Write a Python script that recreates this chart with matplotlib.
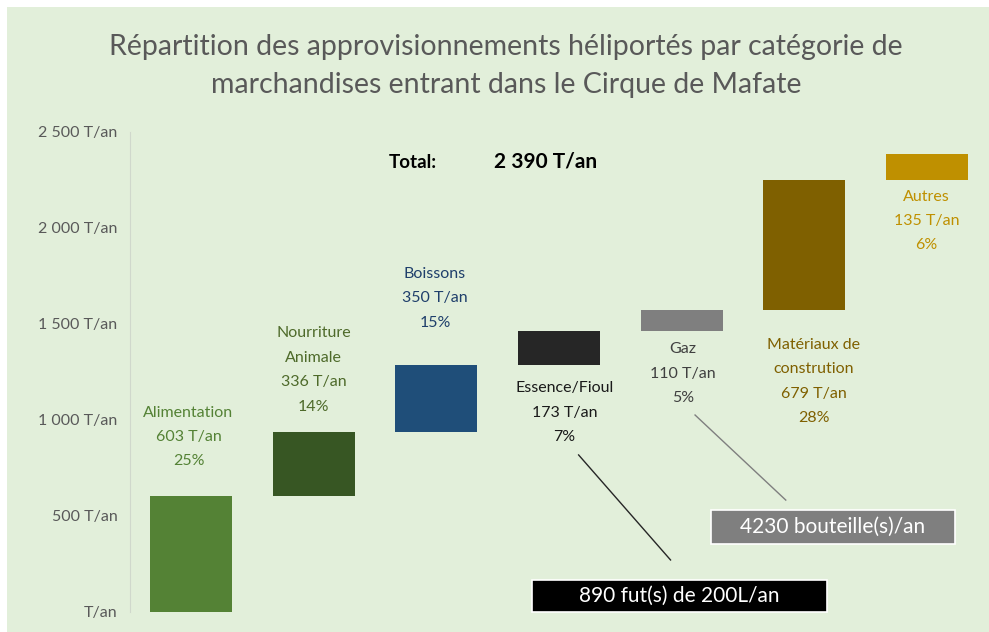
import matplotlib
matplotlib.use("Agg")
import matplotlib.pyplot as plt
from matplotlib.patches import Rectangle
import numpy as np

# ---- data ----
categories = ["Alimentation", "Nourriture\nAnimale", "Boissons", "Essence/Fioul",
              "Gaz", "Matériaux de\nconstrution", "Autres"]
values = [603, 336, 350, 173, 110, 679, 135]
total_label = "2 390 T/an"
yticks = [0, 500, 1000, 1500, 2000, 2500]
ytick_labels = ["T/an", "500 T/an", "1 000 T/an", "1 500 T/an", "2 000 T/an", "2 500 T/an"]
callout_fioul = "890 fut(s) de 200L/an"
callout_gaz = "4230 bouteille(s)/an"

# ---- style ----
bar_colors = ["#548235", "#375623", "#1F4E79", "#262626", "#7F7F7F", "#7F6000", "#BF9000"]
label_colors = ["#548235", "#4E6A2A", "#1F3F6B", "#1A1A1A", "#404040", "#7F6000", "#BF9000"]
label_side = ["above", "above", "above", "below", "below", "below", "below"]
label_dy = [20, 13, 25, 12, 8, 20, 7]     # points away from bar
label_dx = [-2, 0, -1, 4, 1, 7, 0]        # points
bg = "#E2EFDA"
font = ["Lato", "DejaVu Sans"]
plt.rcParams["font.family"] = font

fig = plt.figure(figsize=(9.89, 6.32), dpi=100, facecolor="white")
fig.patches.append(Rectangle((7/989, -1), 2, 2 - 7/632, transform=fig.transFigure,
                             facecolor=bg, edgecolor="none", zorder=-5))
ax = fig.add_axes([130/989, 20/632, 858/989, 480/632])
ax.set_facecolor(bg)
ax.patch.set_alpha(0)

vals = np.array(values)
bottoms = np.concatenate([[0], np.cumsum(vals)[:-1]])
x = np.arange(len(values))
ax.bar(x, vals, bottom=bottoms, width=0.67, color=bar_colors, zorder=3)

total = vals.sum()
for i, (v, b) in enumerate(zip(vals, bottoms)):
    pct = f"{round(100 * v / total)}%"
    txt = f"{categories[i]}\n{v} T/an\n{pct}"
    if label_side[i] == "above":
        ax.annotate(txt, (x[i], b + v), xytext=(label_dx[i], label_dy[i]),
                    textcoords="offset points", ha="center", va="bottom",
                    fontsize=11.5, color=label_colors[i], linespacing=1.95)
    else:
        ax.annotate(txt, (x[i], b), xytext=(label_dx[i], -label_dy[i]),
                    textcoords="offset points", ha="center", va="top",
                    fontsize=11.5, color=label_colors[i], linespacing=1.95)

ax.set_xlim(-0.5, len(values) - 0.5)
ax.set_ylim(0, 2500)
ax.set_yticks(yticks)
ax.set_yticklabels(ytick_labels, fontsize=11.5, color="#595959")
ax.tick_params(axis="y", length=0, pad=9)
ax.set_xticks([])
for s in ["top", "right", "bottom"]:
    ax.spines[s].set_visible(False)
ax.spines["left"].set_color("#D0D8CC")

# Title
fig.text(506/989, 1 - 47/632, "Répartition des approvisionnements héliportés par catégorie de",
         ha="center", va="center", fontsize=20.5, color="#595959")
fig.text(506/989, 1 - 85/632, "marchandises entrant dans le Cirque de Mafate",
         ha="center", va="center", fontsize=20.5, color="#595959")

# Total
fig.text(413/989, 1 - 163/632, "Total:", ha="center", va="center", fontsize=13.5,
         fontweight="bold", color="black")
fig.text(546/989, 1 - 162/632, total_label, ha="center", va="center", fontsize=15,
         fontweight="bold", color="black")

# Callouts
ax.add_patch(Rectangle((2.78, 0), 5.19 - 2.78, 167, facecolor="black",
                       edgecolor="white", lw=1.2, zorder=4, clip_on=False))
ax.text((2.78 + 5.19) / 2, 83, callout_fioul, ha="center", va="center",
        fontsize=15, color="white", zorder=5)
ax.plot([3.16, 3.91], [818, 271], color="#262626", lw=1, zorder=2)

ax.add_patch(Rectangle((4.24, 354), 6.23 - 4.24, 531 - 354, facecolor="#7F7F7F",
                       edgecolor="white", lw=1.2, zorder=4, clip_on=False))
ax.text((4.24 + 6.23) / 2, 443, callout_gaz, ha="center", va="center",
        fontsize=15, color="white", zorder=5)
ax.plot([4.11, 4.85], [1026, 583], color="#7F7F7F", lw=1, zorder=2)

fig.savefig("out.png", dpi=100, facecolor="white")
